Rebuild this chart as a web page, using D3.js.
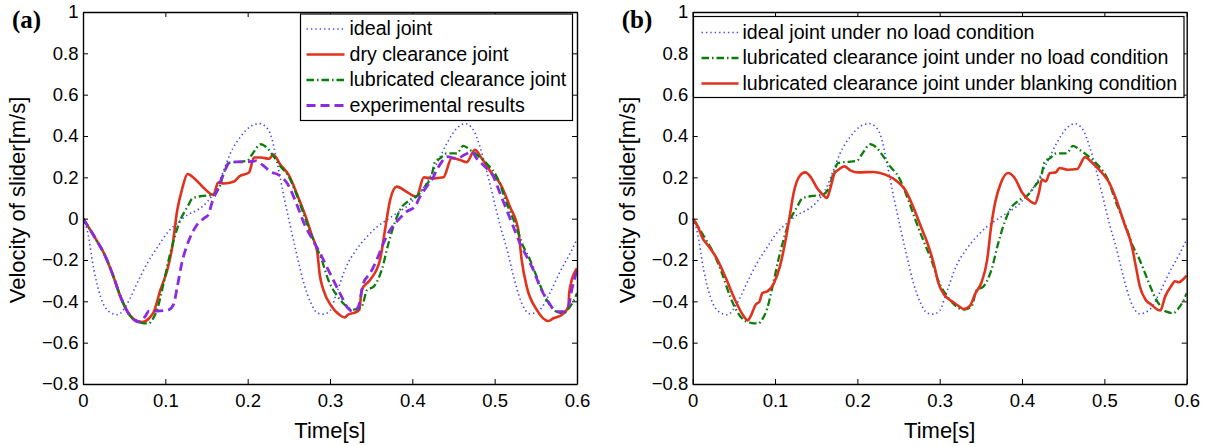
<!DOCTYPE html>
<html>
<head>
<meta charset="utf-8">
<script src="https://cdn.jsdelivr.net/npm/d3@7"></script>
<style>
  html, body { margin: 0; padding: 0; background: #fff; }
  svg { display: block; }
  text { font-family: "Liberation Sans", Arial, Helvetica, sans-serif; fill: #000; }
</style>
</head>
<body>
<script>
// ---------------- DATA ----------------
const xTicks = [0, 0.1, 0.2, 0.3, 0.4, 0.5, 0.6];
const xTickLabels = ["0", "0.1", "0.2", "0.3", "0.4", "0.5", "0.6"];
const yTicks = [-0.8, -0.6, -0.4, -0.2, 0, 0.2, 0.4, 0.6, 0.8, 1];
const yTickLabels = ["\u22120.8", "\u22120.6", "\u22120.4", "\u22120.2", "0", "0.2", "0.4", "0.6", "0.8", "1"];

const xTitle = "Time[s]";
const yTitle = "Velocity of slider[m/s]";

const legendA = ["ideal joint", "dry clearance joint", "lubricated clearance joint", "experimental results"];
const legendB = ["ideal joint under no load condition", "lubricated clearance joint under no load condition", "lubricated clearance joint under blanking condition"];

// ideal joint (both panels)  [time s, velocity m/s]
const idealJoint = [[0,0],[0.005,-0.055],[0.0134,-0.25],[0.0215,-0.38],[0.0316,-0.45],[0.042,-0.465],[0.054,-0.41],[0.066,-0.31],[0.078,-0.216],[0.091,-0.135],[0.102,-0.07],[0.1145,-0.022],[0.127,0.018],[0.139,0.042],[0.151,0.082],[0.163,0.155],[0.171,0.235],[0.179,0.316],[0.1915,0.397],[0.203,0.445],[0.214,0.46],[0.222,0.445],[0.228,0.405],[0.236,0.268],[0.244,0.107],[0.252,-0.04],[0.26,-0.18],[0.268,-0.31],[0.277,-0.41],[0.285,-0.457],[0.292,-0.462],[0.3,-0.445],[0.308,-0.36],[0.32,-0.23],[0.332,-0.15],[0.345,-0.087],[0.357,-0.04],[0.369,-0.006],[0.381,0.026],[0.393,0.058],[0.405,0.106],[0.417,0.17],[0.43,0.268],[0.442,0.365],[0.454,0.437],[0.464,0.46],[0.474,0.43],[0.482,0.35],[0.49,0.235],[0.498,0.107],[0.506,-0.023],[0.515,-0.15],[0.523,-0.28],[0.531,-0.39],[0.543,-0.46],[0.555,-0.44],[0.567,-0.36],[0.579,-0.26],[0.592,-0.165],[0.6,-0.1]];

// dry clearance joint (panel a)
const dryJoint = [[0,0],[0.005,-0.03],[0.015,-0.095],[0.0255,-0.168],[0.0356,-0.265],[0.0458,-0.38],[0.054,-0.45],[0.062,-0.487],[0.072,-0.5],[0.08,-0.483],[0.086,-0.45],[0.094,-0.345],[0.1024,-0.248],[0.1085,-0.135],[0.1145,0.042],[0.1206,0.147],[0.127,0.216],[0.135,0.196],[0.147,0.147],[0.1585,0.115],[0.164,0.175],[0.171,0.17],[0.1835,0.18],[0.19,0.205],[0.2016,0.223],[0.2077,0.296],[0.216,0.296],[0.226,0.29],[0.231,0.31],[0.24,0.26],[0.25,0.211],[0.2604,0.114],[0.2705,0.01],[0.2785,-0.087],[0.2845,-0.16],[0.2875,-0.27],[0.292,-0.345],[0.302,-0.425],[0.312,-0.467],[0.318,-0.478],[0.322,-0.464],[0.33,-0.455],[0.3357,-0.44],[0.3385,-0.345],[0.3486,-0.297],[0.3607,-0.2],[0.3668,-0.055],[0.373,0.09],[0.381,0.155],[0.393,0.13],[0.405,0.106],[0.414,0.2],[0.4255,0.195],[0.4377,0.2],[0.4478,0.292],[0.458,0.284],[0.466,0.273],[0.476,0.333],[0.4843,0.292],[0.4964,0.22],[0.5065,0.171],[0.5186,0.058],[0.5287,-0.055],[0.5328,-0.2],[0.539,-0.33],[0.551,-0.44],[0.5652,-0.495],[0.5713,-0.482],[0.5814,-0.466],[0.5895,-0.426],[0.5907,-0.353],[0.6,-0.24]];

// lubricated clearance joint (panel a) = under no load condition (panel b)
const lubricatedJoint = [[0,0],[0.005,-0.03],[0.015,-0.095],[0.0255,-0.168],[0.0356,-0.265],[0.0458,-0.38],[0.054,-0.45],[0.062,-0.49],[0.072,-0.505],[0.08,-0.507],[0.084,-0.49],[0.09,-0.44],[0.098,-0.31],[0.104,-0.2],[0.1105,-0.1],[0.1166,-0.022],[0.127,0.058],[0.133,0.098],[0.145,0.11],[0.157,0.115],[0.1652,0.147],[0.171,0.22],[0.177,0.27],[0.1875,0.275],[0.1996,0.28],[0.2057,0.313],[0.216,0.36],[0.222,0.348],[0.23,0.31],[0.24,0.252],[0.25,0.203],[0.2604,0.106],[0.2705,-0.006],[0.2806,-0.11],[0.29,-0.2],[0.298,-0.297],[0.308,-0.37],[0.318,-0.417],[0.3285,-0.44],[0.3385,-0.426],[0.345,-0.345],[0.3526,-0.33],[0.3628,-0.248],[0.371,-0.12],[0.377,-0.039],[0.385,0.042],[0.397,0.09],[0.4073,0.115],[0.415,0.155],[0.4236,0.211],[0.4276,0.276],[0.4337,0.292],[0.4418,0.316],[0.454,0.316],[0.462,0.352],[0.47,0.333],[0.478,0.31],[0.49,0.268],[0.5045,0.187],[0.5146,0.074],[0.5247,-0.023],[0.535,-0.136],[0.543,-0.2],[0.551,-0.28],[0.5632,-0.393],[0.5753,-0.45],[0.5834,-0.457],[0.5915,-0.426],[0.5956,-0.4],[0.6,-0.36]];

// experimental results (panel a)
const experimental = [[0,0],[0.005,-0.03],[0.015,-0.095],[0.0255,-0.168],[0.0356,-0.265],[0.0458,-0.38],[0.054,-0.45],[0.062,-0.49],[0.068,-0.5],[0.076,-0.47],[0.08,-0.447],[0.09,-0.447],[0.1045,-0.44],[0.11,-0.415],[0.1145,-0.33],[0.12,-0.216],[0.1288,-0.103],[0.1369,-0.039],[0.147,0.002],[0.152,0.018],[0.157,0.082],[0.163,0.138],[0.171,0.22],[0.179,0.275],[0.189,0.275],[0.1996,0.275],[0.21,0.28],[0.218,0.26],[0.228,0.227],[0.238,0.211],[0.248,0.171],[0.2584,0.082],[0.2685,-0.023],[0.2786,-0.1],[0.288,-0.168],[0.3,-0.265],[0.312,-0.36],[0.322,-0.434],[0.3285,-0.45],[0.3345,-0.426],[0.3405,-0.313],[0.3486,-0.265],[0.3567,-0.2],[0.3648,-0.12],[0.373,-0.055],[0.383,-0.006],[0.393,0.034],[0.403,0.058],[0.4093,0.106],[0.4175,0.155],[0.4236,0.187],[0.4296,0.235],[0.4357,0.275],[0.4418,0.3],[0.454,0.292],[0.464,0.31],[0.472,0.325],[0.478,0.292],[0.488,0.252],[0.4985,0.203],[0.5065,0.123],[0.5146,0.042],[0.5227,-0.039],[0.5308,-0.12],[0.539,-0.184],[0.547,-0.248],[0.5551,-0.33],[0.5652,-0.402],[0.5753,-0.45],[0.5834,-0.45],[0.5895,-0.426],[0.5936,-0.345],[0.6,-0.25]];

// lubricated clearance joint under blanking condition (panel b)
const blanking = [[0,0],[0.0062,-0.037],[0.0119,-0.094],[0.018,-0.126],[0.03,-0.198],[0.0394,-0.279],[0.0513,-0.392],[0.0608,-0.465],[0.067,-0.492],[0.0703,-0.473],[0.0765,-0.416],[0.0812,-0.4],[0.0846,-0.36],[0.0907,-0.352],[0.0988,-0.311],[0.106,-0.23],[0.113,-0.1],[0.1178,0.011],[0.1226,0.124],[0.1297,0.205],[0.1368,0.224],[0.144,0.197],[0.151,0.148],[0.158,0.116],[0.163,0.1],[0.1667,0.14],[0.1724,0.221],[0.177,0.237],[0.1843,0.253],[0.1914,0.234],[0.201,0.224],[0.22,0.226],[0.234,0.213],[0.2485,0.18],[0.258,0.14],[0.2675,0.06],[0.277,-0.037],[0.2865,-0.134],[0.2936,-0.23],[0.2983,-0.31],[0.3055,-0.368],[0.315,-0.4],[0.322,-0.42],[0.3292,-0.437],[0.3363,-0.424],[0.3435,-0.36],[0.3506,-0.31],[0.3577,-0.198],[0.3625,-0.037],[0.3672,0.076],[0.3743,0.173],[0.3829,0.221],[0.391,0.197],[0.4005,0.124],[0.41,0.084],[0.4157,0.073],[0.4204,0.124],[0.4242,0.189],[0.429,0.18],[0.4337,0.221],[0.4409,0.224],[0.4456,0.245],[0.4551,0.237],[0.467,0.24],[0.4765,0.298],[0.4836,0.277],[0.4955,0.229],[0.505,0.18],[0.5145,0.092],[0.524,-0.021],[0.5335,-0.134],[0.5382,-0.23],[0.543,-0.327],[0.5501,-0.392],[0.5572,-0.416],[0.5644,-0.44],[0.568,-0.444],[0.5739,-0.376],[0.581,-0.327],[0.5857,-0.303],[0.5905,-0.308],[0.5952,-0.295],[0.6,-0.276]];

// ---------------- STYLES ----------------
const STY = {
  ideal: { color: "#4646ff", width: 1.6, dash: "1.4,3" },
  dry:   { color: "#e0321c", width: 2.6, dash: null },
  lub:   { color: "#0b7d0b", width: 2.3, dash: "7.5,3,1.5,3" },
  exp:   { color: "#8a2be2", width: 2.8, dash: "9,5" },
  blank: { color: "#e0321c", width: 2.6, dash: null }
};

const W = 1213, H = 446;
const svg = d3.select("body").append("svg").attr("width", W).attr("height", H);

function drawPanel(cfg) {
  const { L, R, T, B, series, legend, label, id } = cfg;
  const x = d3.scaleLinear().domain([0, 0.6]).range([L, R]);
  const y = d3.scaleLinear().domain([-0.8, 1]).range([B, T]);
  const g = svg.append("g");

  svg.append("clipPath").attr("id", "clip" + id)
    .append("rect").attr("x", L).attr("y", T).attr("width", R - L).attr("height", B - T);

  const line = d3.line().x(d => x(d[0])).y(d => y(d[1])).curve(d3.curveMonotoneX);
  const lg = g.append("g").attr("clip-path", `url(#clip${id})`);
  series.forEach(s => {
    lg.append("path").datum(s.data)
      .attr("d", line)
      .attr("fill", "none")
      .attr("stroke", s.sty.color)
      .attr("stroke-width", s.sty.width)
      .attr("stroke-dasharray", s.sty.dash)
      .attr("stroke-linejoin", "round");
  });

  const tickFont = "18.5px";
  const ax = g.append("g").attr("transform", `translate(0,${B})`)
    .call(d3.axisBottom(x).tickValues(xTicks).tickFormat((d, i) => xTickLabels[i])
      .tickSizeInner(-5).tickSizeOuter(0).tickPadding(10));
  const axT = g.append("g").attr("transform", `translate(0,${T})`)
    .call(d3.axisTop(x).tickValues(xTicks).tickFormat("").tickSizeInner(-5).tickSizeOuter(0));
  const ay = g.append("g").attr("transform", `translate(${L},0)`)
    .call(d3.axisLeft(y).tickValues(yTicks).tickFormat((d, i) => yTickLabels[i])
      .tickSizeInner(-5).tickSizeOuter(0).tickPadding(4.5));
  const ayR = g.append("g").attr("transform", `translate(${R},0)`)
    .call(d3.axisRight(y).tickValues(yTicks).tickFormat("").tickSizeInner(-5).tickSizeOuter(0));

  [ax, axT, ay, ayR].forEach(a => {
    a.select(".domain").attr("stroke", "#000").attr("stroke-width", 1.4);
    a.selectAll(".tick line").attr("stroke", "#000").attr("stroke-width", 1);
    a.selectAll("text").style("font-family", "'Liberation Sans', Arial, sans-serif")
      .style("font-size", tickFont).attr("fill", "#000");
  });

  g.append("text").attr("x", (L + R) / 2).attr("y", 438)
    .attr("text-anchor", "middle").style("font-size", "22px").text(xTitle);
  g.append("text").attr("transform", `translate(${L - 58},${200}) rotate(-90)`)
    .attr("text-anchor", "middle").style("font-size", "22px").text(yTitle);

  g.append("text").attr("x", L - 71).attr("y", 28)
    .style("font-family", "'Liberation Serif', 'Times New Roman', serif")
    .style("font-weight", "bold").style("font-size", "25px").text(label);

  const lgd = g.append("g");
  lgd.append("rect").attr("x", legend.x0).attr("y", legend.y0)
    .attr("width", legend.x1 - legend.x0).attr("height", legend.y1 - legend.y0)
    .attr("fill", "#fff").attr("stroke", "#000").attr("stroke-width", 1.2);
  legend.items.forEach((it, i) => {
    const by = legend.base0 + i * legend.step;
    lgd.append("line").attr("x1", legend.lx0).attr("x2", legend.lx1)
      .attr("y1", by - 6).attr("y2", by - 6)
      .attr("stroke", it.sty.color).attr("stroke-width", it.sty.width)
      .attr("stroke-dasharray", it.sty.dash);
    lgd.append("text").attr("x", legend.tx).attr("y", by)
      .style("font-size", "19.6px").text(it.name);
  });
}

drawPanel({
  id: "a", L: 83, R: 577, T: 12, B: 384, label: "(a)",
  series: [
    { data: idealJoint, sty: STY.ideal },
    { data: dryJoint, sty: STY.dry },
    { data: lubricatedJoint, sty: STY.lub },
    { data: experimental, sty: STY.exp }
  ],
  legend: {
    x0: 300.5, x1: 572.5, y0: 14, y1: 120.5, lx0: 306.5, lx1: 344.5, tx: 349.5,
    base0: 35, step: 25.5,
    items: [
      { name: legendA[0], sty: STY.ideal },
      { name: legendA[1], sty: STY.dry },
      { name: legendA[2], sty: STY.lub },
      { name: legendA[3], sty: STY.exp }
    ]
  }
});

drawPanel({
  id: "b", L: 692.7, R: 1186.7, T: 12, B: 384, label: "(b)",
  series: [
    { data: idealJoint, sty: STY.ideal },
    { data: lubricatedJoint, sty: STY.lub },
    { data: blanking, sty: STY.blank }
  ],
  legend: {
    x0: 693.5, x1: 1184, y0: 16.5, y1: 97.5, lx0: 701.5, lx1: 738.5, tx: 742.5,
    base0: 38.5, step: 25.5,
    items: [
      { name: legendB[0], sty: STY.ideal },
      { name: legendB[1], sty: STY.lub },
      { name: legendB[2], sty: STY.blank }
    ]
  }
});
</script>
</body>
</html>
